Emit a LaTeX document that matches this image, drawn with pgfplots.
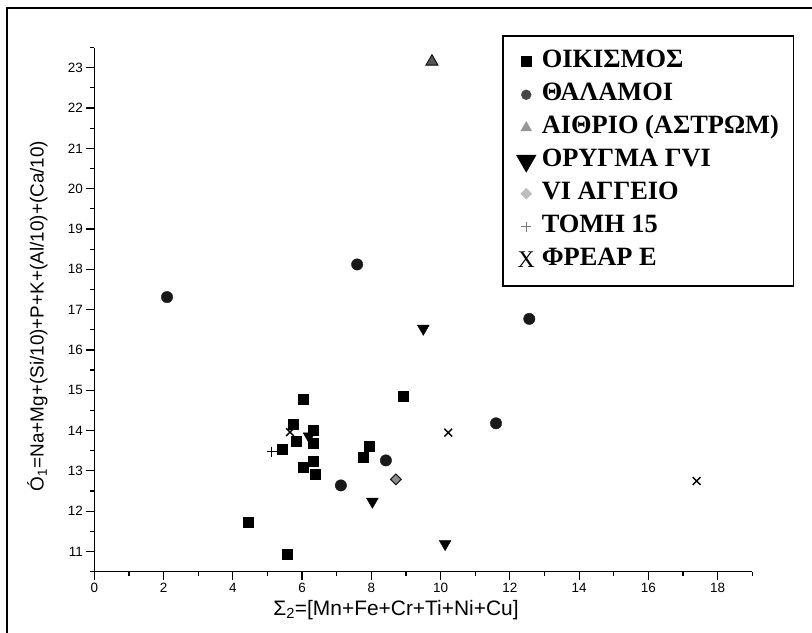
\documentclass[border=0pt]{standalone}
\usepackage{pgfplots}
\pgfplotsset{compat=1.18}
\usepackage{fontspec}
\setmainfont{Liberation Sans}
\newfontfamily\legfont{Liberation Serif}

\definecolor{dotblack}{RGB}{25,25,25}
\definecolor{trigray}{RGB}{85,85,85}
\definecolor{diagray}{RGB}{140,140,140}
\definecolor{leggray}{RGB}{70,70,70}
\definecolor{legtri}{RGB}{150,150,150}
\definecolor{legdia}{RGB}{190,190,190}
\definecolor{plusgray}{RGB}{120,120,120}

\begin{document}
\begin{tikzpicture}
\useasboundingbox (0bp,0bp) rectangle (812bp,-633bp);
\draw[line width=1.4bp] (7bp,-633bp) -- (7bp,-8bp) -- (812bp,-8bp);

\begin{axis}[
  at={(94.3bp,-571.7bp)}, anchor=south west,
  scale only axis, width=658bp, height=524.2bp,
  xmin=0, xmax=19, ymin=10.5, ymax=23.5,
  axis lines*=left,
  axis line style={line width=1.5bp},
  xtick={0,2,...,18}, minor xtick={1,3,...,19},
  ytick={11,12,...,23}, minor ytick={10.5,11.5,...,23.5},
  tick align=outside,
  major tick length=8bp, minor tick length=4bp,
  tick style={line width=1.2bp, black},
  tick label style={font=\fontsize{13.5}{13.5}\selectfont},
  /pgf/number format/assume math mode=true,
  xlabel={Σ\textsubscript{2}=[Mn+Fe+Cr+Ti+Ni+Cu]},
  ylabel={Ó\textsubscript{1}=Na+Mg+(Si/10)+P+K+(Al/10)+(Ca/10)},
  xlabel style={at={(rel axis cs:0.4585,-0.0725)}, anchor=center,
    font=\fontsize{21}{21}\selectfont},
  ylabel style={at={(rel axis cs:-0.0866,0.488)}, anchor=center,
    font=\fontsize{19}{19}\selectfont},
  legend cell align=left,
  legend style={at={(rel axis cs:0.6196,1.0238)}, anchor=north west,
    draw=black, line width=1.5bp,
    font=\legfont\bfseries\fontsize{26.5}{26.5}\selectfont,
    inner xsep=14.5bp, inner ysep=14bp, row sep=9bp,
    nodes={inner sep=0pt, text height=18bp, text depth=6bp},
    /tikz/every odd column/.append style={column sep=6.5bp}},
]
% ΟΙΚΙΣΜΟΣ
\addplot[only marks, mark=square*, mark size=5bp, black, forget plot] coordinates {
(6.04,14.77) (8.91,14.86) (5.73,14.15) (6.32,14.00) (5.82,13.73) (6.31,13.69)
(5.43,13.53) (7.93,13.61) (7.77,13.33) (6.32,13.23) (6.04,13.10) (6.38,12.93)
(4.43,11.74) (5.57,10.93)
};
% ΟΡΥΓΜΑ ΓVI
\addplot[only marks, mark=triangle*, mark size=6.8bp, black,
  mark options={rotate=180}, forget plot] coordinates {
(9.50,16.53) (8.03,12.24) (10.13,11.19) (6.20,13.86)
};
% ΘΑΛΑΜΟΙ
\addplot[only marks, mark=*, mark size=5.7bp, dotblack, forget plot] coordinates {
(2.10,17.31) (7.59,18.12) (12.56,16.77) (11.60,14.18) (8.42,13.26) (7.12,12.64)
};
% ΑΙΘΡΙΟ (ΑΣΤΡΩΜ)
\addplot[only marks, mark=triangle*, mark size=7bp,
  mark options={draw=black, fill=trigray, line width=0.8bp}, forget plot] coordinates {
(9.75,23.15)
};
% VI ΑΓΓΕΙΟ
\addplot[only marks, mark=square*, mark size=3.8bp,
  mark options={rotate=45, draw=dotblack, fill=diagray, line width=1bp}, forget plot] coordinates {
(8.71,12.79)
};
% ΤΟΜΗ 15
\addplot[only marks, mark=+, mark size=5bp, black,
  mark options={line width=1.2bp}, forget plot] coordinates {
(5.12,13.48)
};
% ΦΡΕΑΡ Ε
\addplot[only marks, mark=x, mark size=5.5bp, black,
  mark options={line width=1.4bp}, forget plot] coordinates {
(5.65,13.96) (10.22,13.95) (17.39,12.75)
};

\addlegendimage{only marks, mark=square*, mark size=4.8bp, black}
\addlegendentry{ΟΙΚΙΣΜΟΣ}
\addlegendimage{only marks, mark=*, mark size=4.4bp, leggray}
\addlegendentry{ΘΑΛΑΜΟΙ}
\addlegendimage{only marks, mark=triangle*, mark size=5.2bp, legtri}
\addlegendentry{ΑΙΘΡΙΟ (ΑΣΤΡΩΜ)}
\addlegendimage{only marks, mark=triangle*, mark size=10.4bp, black, mark options={rotate=180}}
\addlegendentry{ΟΡΥΓΜΑ ΓVI}
\addlegendimage{only marks, mark=square*, mark size=3.4bp, legdia, mark options={rotate=45}}
\addlegendentry{VI ΑΓΓΕΙΟ}
\addlegendimage{only marks, mark=+, mark size=5bp, plusgray, mark options={line width=0.8bp}}
\addlegendentry{ΤΟΜΗ 15}
\addlegendimage{only marks, mark=text,
  text mark={\legfont\mdseries\fontsize{24}{24}\selectfont X}}
\addlegendentry{ΦΡΕΑΡ Ε}
\end{axis}
\end{tikzpicture}
\end{document}
